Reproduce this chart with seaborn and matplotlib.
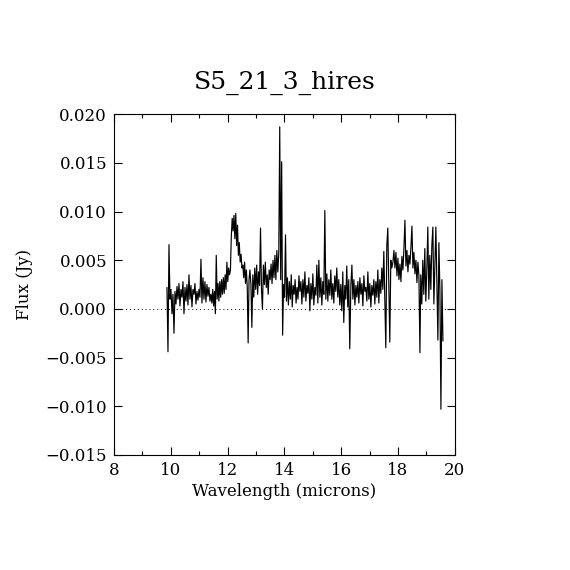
import numpy as np
import pandas as pd
import matplotlib
matplotlib.use("Agg")
import matplotlib.pyplot as plt
import matplotlib.ticker as mticker
import seaborn as sns

# Flux values, in units of 0.001 Jy, split into wavelength segments
seg_edges = [(9.865, 11.378), (11.413, 12.785), (12.82, 14.545), (14.58, 16.30),
             (16.34, 17.78), (17.82, 18.77), (18.80, 19.58)]

flux_a = [2.2, -4.4, 6.6, 1.0, 2.0, -0.5, 1.5, -2.5, 1.8, 0.5, 2.3, 1.0, 2.6, 0.3, 2.0,
          1.2, 2.8, -0.5, 2.2, 0.8, 2.5, 0.4, 3.5, 1.0, 2.4, 0.2, 2.0, 1.5, 2.6, 0.5,
          1.8, 0.9, 2.0, 1.2, 5.1, 0.6, 3.2, 1.0, 2.8, 0.7, 2.5, 1.3, 2.2, 0.8]
flux_b = [1.5, 0.6, 2.0, 0.3, 1.8, -0.5, 5.5, 1.0, 2.6, 0.8, 2.8, 1.2, 3.0, 1.5, 3.2,
          1.6, 3.5, 2.0, 4.8, 2.8, 4.2, 3.5, 4.0, 7.5, 9.3, 8.0, 9.6, 7.2, 9.8, 6.5,
          8.6, 5.5, 6.8, 4.8, 5.6, 4.2, 4.5, 3.2, 4.8, 2.6, 4.0, 2.2, -3.5, 3.0, 4.0]
flux_c = [2.5, -1.9, 3.5, 1.2, 4.2, 2.0, 4.5, 1.5, 3.8, 2.4, 8.3, 2.0, 0.0, 4.5, 2.5,
          4.8, 2.2, 3.5, 1.5, 4.0, 3.0, 4.6, 2.6, 5.0, 3.2, 5.5, 3.0, 6.0, 3.8, 5.7,
          18.7, 3.0, 15.1, -2.7, 2.5, 1.2, 7.6, 0.8, 3.2, 0.4, 2.8, 1.0, 3.5, 0.2, 2.4,
          1.5, 3.0, 0.6, 2.2, 1.0, 3.4, 1.8]
flux_d = [2.8, 0.5, 3.0, 1.2, 3.8, 0.8, 2.4, 1.6, 3.2, -0.2, 2.6, 1.0, 3.6, 0.4, 2.2,
          1.4, 4.5, 0.6, 5.0, 1.2, 3.2, 0.4, 2.8, 1.5, 10.1, 1.0, 3.6, 0.8, 3.0, 1.4,
          4.0, 1.0, 2.6, 0.6, 3.4, 1.8, 4.2, 1.2, 3.0, 0.4, 2.5, -0.2, 3.8, -1.4, 2.4,
          1.0, 4.4, 0.2, 3.0, -4.1]
flux_e = [2.5, 4.5, 1.0, 3.0, 0.4, 2.4, 1.2, 2.8, 0.6, 3.2, 1.5, 2.6, 0.3, 3.4, 1.8,
          2.2, 0.8, 3.8, 1.0, 2.6, 0.2, 2.4, 1.4, 3.0, 0.5, 2.8, 1.2, 4.0, 0.6, 3.0,
          1.6, 4.2, 2.0, 5.9, 1.0, -4.0, 6.5, 8.3, 2.5, -3.4, 5.0, 4.2]
flux_f = [4.8, 6.0, 4.2, 5.8, 3.4, 5.2, 3.0, 4.6, 2.8, 5.4, 4.0, 6.2, 9.1, 4.4, 6.0,
          3.8, 5.5, 4.6, 6.3, 8.5, 4.2, 5.8, 3.6, 5.0, 2.7, 4.8, 3.4, -4.5]
flux_g = [3.5, 0.5, 5.0, 1.5, 6.2, 0.8, 4.0, 8.4, 1.0, 5.5, 2.0, 6.5, 8.4, 0.5, 4.5,
          8.4, 2.5, -3.2, 6.8, 1.8, -10.3, 3.0, -3.3]

segments = [flux_a, flux_b, flux_c, flux_d, flux_e, flux_f, flux_g]

wl, fx = [], []
for (lo, hi), vals in zip(seg_edges, segments):
    wl.extend(np.linspace(lo, hi, len(vals)))
    fx.extend(np.array(vals) * 1e-3)
df = pd.DataFrame({"wavelength": wl, "flux": fx})

sns.set_style("ticks")
plt.rcParams["font.family"] = ["DejaVu Serif"]
plt.rcParams["text.color"] = "black"
plt.rcParams["axes.labelcolor"] = "black"

fig = plt.figure(figsize=(5.7, 5.7), dpi=100)
ax = fig.add_axes([0.2, 0.2018, 0.598, 0.598])

sns.lineplot(data=df, x="wavelength", y="flux", estimator=None, sort=False,
             color="black", linewidth=0.85, ax=ax)
ax.axhline(0, color="black", linestyle=(0, (1, 3)), linewidth=0.7)

ax.set_xlim(8, 20)
ax.set_ylim(-0.015, 0.020)
ax.xaxis.set_major_locator(mticker.MultipleLocator(2))
ax.xaxis.set_minor_locator(mticker.MultipleLocator(1))
ax.yaxis.set_major_locator(mticker.MultipleLocator(0.005))
ax.yaxis.set_major_formatter(
    mticker.FuncFormatter(lambda v, p: f"{v:.3f}".replace("-", "\u2212")))
ax.tick_params(which="both", direction="in", top=True, right=True, labelsize=12,
               width=0.8, colors="black")
ax.tick_params(which="major", length=6, pad=5)
ax.tick_params(which="minor", length=3)
for s in ax.spines.values():
    s.set_linewidth(0.8)
    s.set_color("black")

ax.set_title("S5_21_3_hires", fontsize=18, pad=18)
ax.set_xlabel("Wavelength (microns)", fontsize=12, labelpad=3)
ax.set_ylabel("Flux (Jy)", fontsize=12, labelpad=9)

fig.savefig("out.png", dpi=100, facecolor="white")
